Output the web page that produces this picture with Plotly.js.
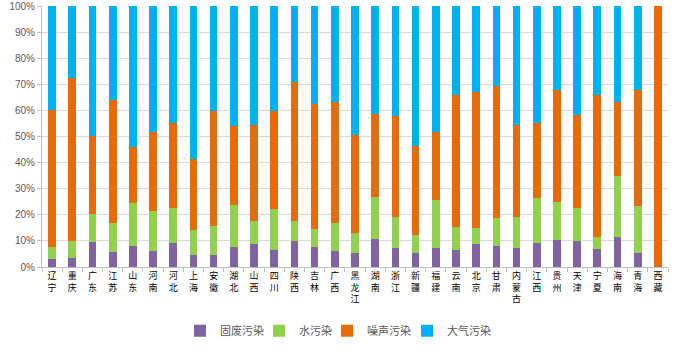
<!DOCTYPE html>
<html>
<head>
<meta charset="utf-8">
<script src="https://cdn.plot.ly/plotly-3.0.1.min.js"></script>
<style>html,body{margin:0;padding:0;background:#fff;}#chart{width:700px;height:355px;}</style>
</head>
<body>
<div id="chart"></div>
<script>
const provinces = ["辽宁","重庆","广东","江苏","山东","河南","河北","上海","安徽","湖北","山西","四川","陕西","吉林","广西","黑龙江","湖南","浙江","新疆","福建","云南","北京","甘肃","内蒙古","江西","贵州","天津","宁夏","海南","青海","西藏"];
const solidWaste = [3.1,3.6,9.7,5.7,7.9,6.3,9.2,4.6,4.6,7.8,8.9,6.5,10.1,7.7,6.1,5.2,10.7,7.4,5.2,7.4,6.6,8.7,8.0,7.3,9.1,10.5,10.1,6.8,11.4,5.5,0];
const water = [4.4,6.3,10.7,11.0,16.6,15.1,13.4,9.6,11.3,15.9,8.7,15.7,7.5,6.8,10.6,7.8,16.1,11.7,6.9,18.1,8.7,6.2,10.9,11.8,17.3,14.5,12.6,4.7,23.5,17.8,0];
const noise = [52.8,62.5,29.9,47.2,21.4,30.5,32.4,27.1,43.7,30.5,36.7,37.5,53.3,48.1,46.4,37.4,31.9,38.9,34.3,26.4,50.5,52.2,50.5,35.2,28.7,43.0,35.5,54.3,28.4,44.6,100];
const air = [39.7,27.6,49.7,36.1,54.1,48.1,45.0,58.7,40.4,45.8,45.7,40.3,29.1,37.4,36.9,49.6,41.3,42.0,53.6,48.1,34.2,32.9,30.6,45.7,44.9,32.0,41.8,34.2,36.7,32.1,0];
const seriesNames = ["固废污染","水污染","噪声污染","大气污染"];
const colors = ["#8064A2","#92D050","#E46C0A","#00B0F0"];

const labels = provinces.map(p => p.split('').join('<br>'));
const vals = [solidWaste, water, noise, air];
const legendIds = ['legend', 'legend2', 'legend3', 'legend4'];
const traces = vals.map((v, i) => ({
  type: 'bar', x: labels, y: v, name: seriesNames[i],
  legend: legendIds[i],
  marker: {color: colors[i], line: {width: 0}},
  hoverinfo: 'name+y'
}));

// legend text start positions (px, container)
const legendTextX = [222, 301, 369, 449];
function legendCfg(textX) {
  return {
    orientation: 'h', xref: 'container', yref: 'container',
    x: (textX - 42) / 700, xanchor: 'left',
    y: 0.068, yanchor: 'middle',
    font: {size: 11, color: '#595959'},
    itemwidth: 30, bgcolor: 'rgba(0,0,0,0)'
  };
}

const layout = {
  width: 700, height: 355,
  margin: {l: 42, r: 32, t: 6, b: 88},
  barmode: 'stack',
  bargap: 0.62,
  paper_bgcolor: '#fff', plot_bgcolor: '#fff',
  font: {family: '"Noto Sans CJK SC", "Liberation Sans", sans-serif'},
  xaxis: {
    type: 'category',
    tickfont: {size: 9, color: '#000', family: '"Noto Sans CJK SC", sans-serif'},
    ticks: 'outside', tickson: 'boundaries', ticklen: 4, tickcolor: '#bfbfbf',
    showline: true, linecolor: '#bfbfbf', linewidth: 1,
    tickangle: 0, automargin: false
  },
  yaxis: {
    range: [0, 100], dtick: 10, ticksuffix: '%',
    tickfont: {size: 10, color: '#595959', family: '"Liberation Sans", sans-serif'},
    gridcolor: '#d9d9d9', gridwidth: 1,
    ticks: 'outside', ticklen: 4, tickcolor: '#bfbfbf',
    showline: true, linecolor: '#bfbfbf', linewidth: 1,
    zeroline: false, automargin: false
  },
  legend: legendCfg(legendTextX[0]),
  legend2: legendCfg(legendTextX[1]),
  legend3: legendCfg(legendTextX[2]),
  legend4: legendCfg(legendTextX[3]),
  showlegend: true
};
Plotly.newPlot('chart', traces, layout, {displayModeBar: false, staticPlot: true});
</script>
</body>
</html>
